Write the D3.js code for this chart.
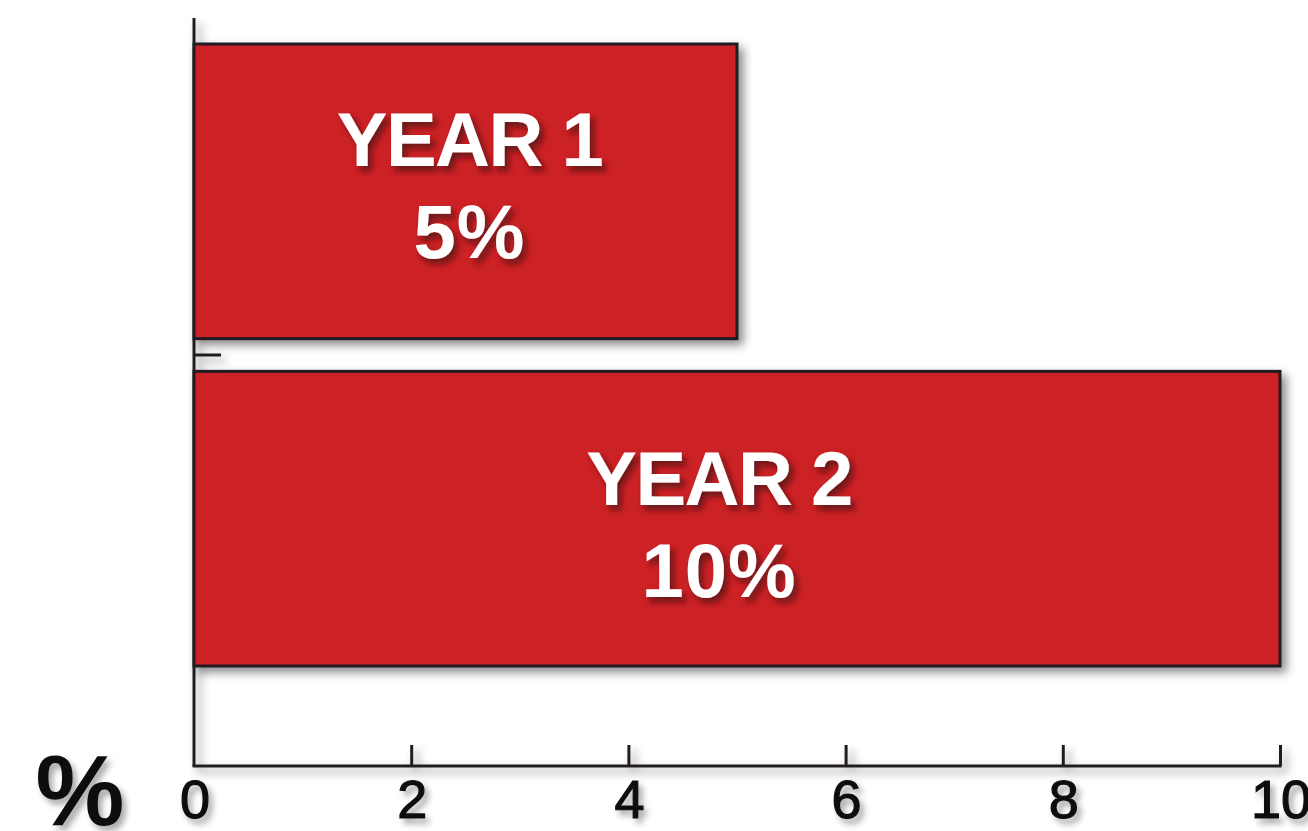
<!DOCTYPE html>
<html><head><meta charset="utf-8">
<script src="https://cdn.jsdelivr.net/npm/d3@7"></script>
<style>html,body{margin:0;padding:0;background:#fff;overflow:hidden}</style>
</head><body>
<svg id="c" width="1308" height="831"></svg>
<script>
const categories = ["YEAR 1", "YEAR 2"];
const values = [5, 10];
const valueLabels = ["5%", "10%"];
const xTicks = [0, 2, 4, 6, 8, 10];
const axisUnit = "%";

const svg = d3.select("#c");
const defs = svg.append("defs");
const f1 = defs.append("filter").attr("id","sh").attr("x","-10%").attr("y","-10%").attr("width","130%").attr("height","130%");
f1.append("feDropShadow").attr("dx",5).attr("dy",5).attr("stdDeviation",5).attr("flood-color","#000").attr("flood-opacity",0.45);
const f2 = defs.append("filter").attr("id","tsh").attr("x","-20%").attr("y","-20%").attr("width","140%").attr("height","140%");
f2.append("feDropShadow").attr("dx",4).attr("dy",5).attr("stdDeviation",3).attr("flood-color","#3a0a0c").attr("flood-opacity",0.7);
const f3 = defs.append("filter").attr("id","lsh").attr("x","-20%").attr("y","-20%").attr("width","140%").attr("height","140%");
f3.append("feDropShadow").attr("dx",4).attr("dy",5).attr("stdDeviation",3).attr("flood-color","#000").attr("flood-opacity",0.35);

const x0 = 194, x1 = 1280, axisY = 766, axisTop = 18;
const x = d3.scaleLinear().domain([0, 10]).range([x0, x1]);
const y = d3.scaleBand().domain(categories).range([44, 666]).paddingInner(0.1).paddingOuter(0);

const dark = "#231F20";

// axes
const g = svg.append("g").attr("filter","url(#sh)");
g.append("line").attr("x1",x0).attr("x2",x0).attr("y1",axisTop).attr("y2",axisY)
  .attr("stroke",dark).attr("stroke-width",3);
const xa = g.append("g").attr("transform",`translate(0,${axisY})`)
  .call(d3.axisBottom(x).tickValues(xTicks).tickSize(-21).tickSizeOuter(0).tickFormat(""));
xa.select(".domain").attr("stroke",dark).attr("stroke-width",3).attr("d",`M${x0-1.5},0H${x1+1.5}`);
xa.selectAll(".tick line").attr("stroke",dark).attr("stroke-width",3);
xa.selectAll(".tick").filter(d=>d===0).remove();

// y boundary tick
const boundary = y(categories[0]) + y.bandwidth() + y.step()*y.paddingInner()/2;
g.append("line").attr("x1",x0).attr("x2",x0+27).attr("y1",boundary).attr("y2",boundary)
  .attr("stroke",dark).attr("stroke-width",3);

// bars
svg.append("g").selectAll("rect").data(values).join("rect")
  .attr("x", x(0)).attr("y",(d,i)=>y(categories[i]))
  .attr("width", d=>x(d)-x(0)).attr("height", y.bandwidth())
  .attr("fill","#CC2027").attr("stroke",dark).attr("stroke-width",3)
  .attr("filter","url(#sh)");

// bar labels (small per-bar nudges to match the artwork)
const nudgeX = [4, -18], nudgeY = [0, 11];
const lab = svg.append("g").attr("filter","url(#tsh)")
  .attr("font-family","Liberation Sans, Arial, Helvetica, sans-serif")
  .attr("font-weight","bold").attr("font-size",76).attr("fill","#fff").attr("text-anchor","middle");
categories.forEach((c,i)=>{
  const cx = (x(0)+x(values[i]))/2 + nudgeX[i];
  const cy = y(c) + y.bandwidth()/2 + nudgeY[i];
  lab.append("text").attr("x",cx).attr("y",cy-25).attr("letter-spacing",-1.5).text(c);
  lab.append("text").attr("x",cx).attr("y",cy+67).attr("letter-spacing",1).text(valueLabels[i]);
});

// tick labels
const tl = svg.append("g").attr("filter","url(#lsh)")
  .attr("font-family","Liberation Sans, Arial, Helvetica, sans-serif")
  .attr("font-size",54).attr("fill","#111").attr("stroke","#111").attr("stroke-width",1.2)
  .attr("text-anchor","middle");
tl.selectAll("text").data(xTicks).join("text")
  .attr("x",d=>x(d)+1).attr("y",818).text(d=>d);
tl.append("text").attr("x",80).attr("y",825).attr("font-size",100).attr("font-weight","bold")
  .attr("stroke-width",0).text(axisUnit);
</script>
</body></html>
